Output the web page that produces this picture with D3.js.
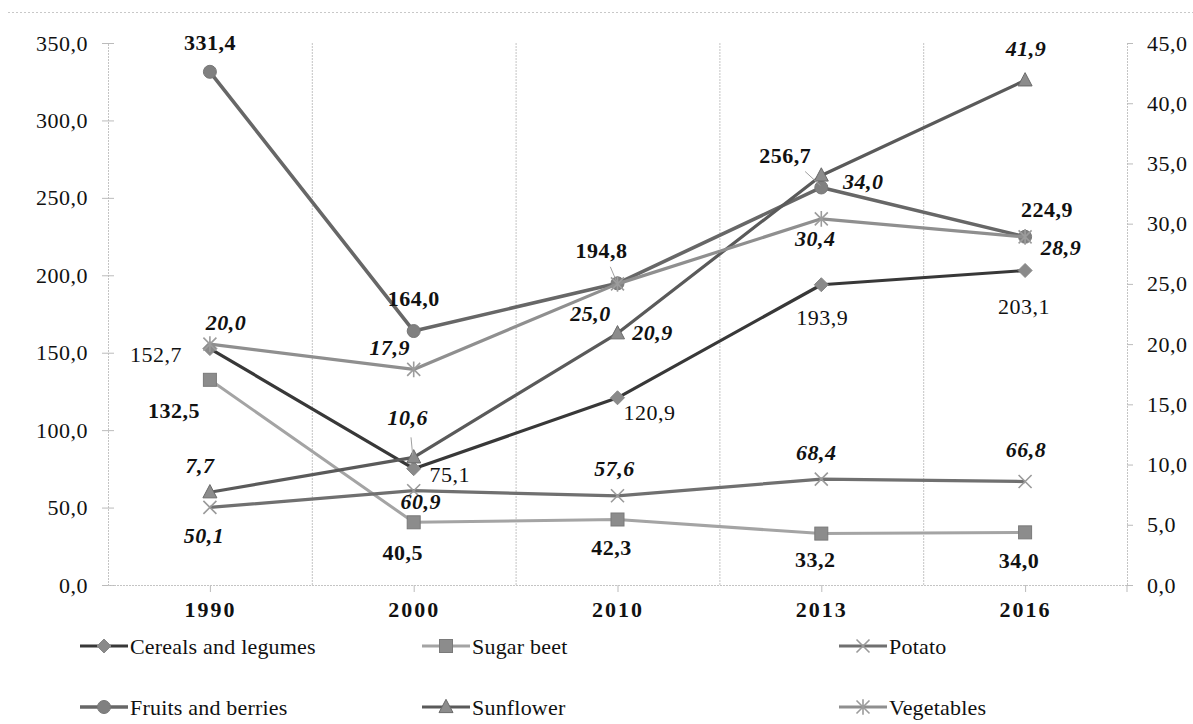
<!DOCTYPE html>
<html>
<head>
<meta charset="utf-8">
<script src="https://cdn.jsdelivr.net/npm/d3@7"></script>
<style>
  html, body { margin: 0; padding: 0; background: #fff; }
  svg { display: block; }
  text { font-family: "Liberation Serif", "Times New Roman", serif; fill: #111; }
</style>
</head>
<body>
<svg id="chart" width="1193" height="724"></svg>
<script>
// Years on the horizontal axis
const years = ["1990", "2000", "2010", "2013", "2016"];

// Series values (left axis unless noted)
const cereals   = [152.7, 75.1, 120.9, 193.9, 203.1];
const sugarBeet = [132.5, 40.5, 42.3, 33.2, 34.0];
const potato    = [50.1, 60.9, 57.6, 68.4, 66.8];
const fruits    = [331.4, 164.0, 194.8, 256.7, 224.9];
// right axis
const sunflower  = [7.7, 10.6, 20.9, 34.0, 41.9];
const vegetables = [20.0, 17.9, 25.0, 30.4, 28.9];

const seriesNames = ["Cereals and legumes", "Sugar beet", "Potato", "Fruits and berries", "Sunflower", "Vegetables"];

// Axis ticks
const leftTicks  = [0, 50, 100, 150, 200, 250, 300, 350];
const rightTicks = [0, 5, 10, 15, 20, 25, 30, 35, 40, 45];

const fmt = v => v.toFixed(1).replace(".", ",");
const SERIF = "'Liberation Serif', 'Times New Roman', serif";
const FS = 22;

const svg = d3.select("#chart");

const plot = { left: 108, right: 1127, top: 43, bottom: 585 };

const x = d3.scaleBand().domain(years).range([plot.left, plot.right]).padding(0);
const cx = d => x(d) + x.bandwidth() / 2;
const yL = d3.scaleLinear().domain([0, 350]).range([plot.bottom, plot.top]);
const yR = d3.scaleLinear().domain([0, 45]).range([plot.bottom, plot.top]);

// Top border of the chart area
svg.append("line")
  .attr("x1", 8).attr("x2", 1193).attr("y1", 12.5).attr("y2", 12.5)
  .attr("stroke", "#c8c8c8").attr("stroke-dasharray", "2,2");

// Vertical gridlines between categories
const grid = svg.append("g");
years.slice(1).forEach(y => {
  grid.append("line")
    .attr("x1", x(y) + 0.5).attr("x2", x(y) + 0.5)
    .attr("y1", plot.top).attr("y2", plot.bottom)
    .attr("stroke", "#c4c4c4").attr("stroke-width", 1).attr("stroke-dasharray", "2,1");
});

// Left axis
const gL = svg.append("g").attr("transform", `translate(${plot.left},0)`)
  .call(d3.axisLeft(yL).tickValues(leftTicks).tickFormat(fmt).tickSize(6).tickPadding(14));
gL.attr("font-family", null);
gL.select(".domain").attr("stroke", "#c4c4c4").attr("stroke-dasharray", "2,1");
gL.selectAll(".tick line").attr("stroke", "#bbb").attr("x2", -6).attr("x1", 6);
gL.selectAll(".tick text").attr("font-size", FS).attr("fill", "#222")
  .attr("letter-spacing", "0.5px").style("font-family", SERIF);

// Right axis
const gR = svg.append("g").attr("transform", `translate(${plot.right},0)`)
  .call(d3.axisRight(yR).tickValues(rightTicks).tickFormat(fmt).tickSize(6).tickPadding(14));
gR.attr("font-family", null);
gR.select(".domain").attr("stroke", "#c4c4c4").attr("stroke-dasharray", "2,1");
gR.selectAll(".tick line").attr("stroke", "#bbb");
gR.selectAll(".tick text").attr("font-size", FS).attr("fill", "#222")
  .attr("letter-spacing", "0.5px").style("font-family", SERIF);

// Bottom axis
const xPoint = d3.scalePoint().domain(years).range([cx(years[0]), cx(years[years.length - 1])]);
const gB = svg.append("g").attr("transform", `translate(0,${plot.bottom})`)
  .call(d3.axisBottom(xPoint).tickSize(7).tickPadding(9).tickSizeOuter(0));
gB.attr("font-family", null);
gB.select(".domain").remove();
gB.append("line").attr("x1", plot.left).attr("x2", plot.right).attr("y1", 0.5).attr("y2", 0.5)
  .attr("stroke", "#c4c4c4").attr("stroke-dasharray", "2,1");
gB.append("line").attr("x1", plot.right).attr("x2", plot.right).attr("y1", 0).attr("y2", 7)
  .attr("stroke", "#bbb");
gB.selectAll(".tick line").attr("stroke", "#bbb");
gB.selectAll(".tick text").attr("font-size", FS).attr("font-weight", "bold")
  .attr("letter-spacing", "2px").attr("fill", "#222")
  .style("font-family", SERIF);

// Marker shapes
function marker(g, type, px, py, st) {
  const s = st.size;
  if (type === "diamond") {
    g.append("path").attr("d", `M${px},${py - s}L${px + s},${py}L${px},${py + s}L${px - s},${py}Z`)
      .attr("fill", st.fill).attr("stroke", st.stroke).attr("stroke-width", 1);
  } else if (type === "square") {
    g.append("rect").attr("x", px - s).attr("y", py - s).attr("width", 2 * s).attr("height", 2 * s)
      .attr("fill", st.fill).attr("stroke", st.stroke).attr("stroke-width", 1);
  } else if (type === "circle") {
    g.append("circle").attr("cx", px).attr("cy", py).attr("r", s)
      .attr("fill", st.fill).attr("stroke", st.stroke).attr("stroke-width", 1);
  } else if (type === "triangle") {
    g.append("path").attr("d", `M${px},${py - s * 1.1}L${px + s},${py + s * 0.8}L${px - s},${py + s * 0.8}Z`)
      .attr("fill", st.fill).attr("stroke", st.stroke).attr("stroke-width", 1);
  } else if (type === "x") {
    g.append("path").attr("d", `M${px - s},${py - s}L${px + s},${py + s}M${px - s},${py + s}L${px + s},${py - s}`)
      .attr("stroke", st.fill).attr("stroke-width", 1.6).attr("fill", "none");
  } else if (type === "star") {
    g.append("path").attr("d", `M${px - s},${py - s}L${px + s},${py + s}M${px - s},${py + s}L${px + s},${py - s}M${px},${py - s * 1.2}L${px},${py + s * 1.2}`)
      .attr("stroke", st.fill).attr("stroke-width", 1.6).attr("fill", "none");
  }
}

// Series drawing styles and label placement (offsets from each point)
const series = [
  { name: seriesNames[0], values: cereals, y: yL, color: "#383838", width: 3.2, mk: "diamond",
    mst: { size: 7, fill: "#8a8a8a", stroke: "#888" }, font: { weight: "normal", style: "normal" },
    off: [[-54, 6], [36, 6], [32, 15], [1, 33], [-1, 36]] },
  { name: seriesNames[1], values: sugarBeet, y: yL, color: "#a4a4a4", width: 3, mk: "square",
    mst: { size: 6.5, fill: "#8c8c8c", stroke: "#7a7a7a" }, font: { weight: "bold", style: "normal" },
    off: [[-36, 30], [-11, 30], [-6, 28], [-6, 26], [-6, 28]] },
  { name: seriesNames[2], values: potato, y: yL, color: "#707070", width: 3.2, mk: "x",
    mst: { size: 6.5, fill: "#9a9a9a" }, font: { weight: "bold", style: "italic" },
    off: [[-6, 28], [7, 11], [-3, -28], [-5, -27], [1, -32]] },
  { name: seriesNames[3], values: fruits, y: yL, color: "#676767", width: 3.6, mk: "circle",
    mst: { size: 6.5, fill: "#808080", stroke: "#777" }, font: { weight: "bold", style: "normal" },
    off: [[0, -30], [0, -33], [-16, -33], [-36, -32], [22, -27]],
    leader: { 2: true, 3: true } },
  { name: seriesNames[4], values: sunflower, y: yR, color: "#5a5a5a", width: 3.2, mk: "triangle",
    mst: { size: 7, fill: "#8c8c8c", stroke: "#6a6a6a" }, font: { weight: "bold", style: "italic" },
    off: [[-10, -27], [-6, -40], [35, -1], [42, 6], [1, -32]],
    leader: { 1: true } },
  { name: seriesNames[5], values: vegetables, y: yR, color: "#8f8f8f", width: 3.2, mk: "star",
    mst: { size: 6.5, fill: "#9c9c9c" }, font: { weight: "bold", style: "italic" },
    off: [[16, -22], [-24, -22], [-27, 29], [-6, 19], [36, 10]] }
];

const linesG = svg.append("g");
const labelsG = svg.append("g");

series.forEach(s => {
  const pts = s.values.map((v, i) => [cx(years[i]), s.y(v)]);
  linesG.append("path")
    .attr("d", d3.line()(pts))
    .attr("fill", "none").attr("stroke", s.color).attr("stroke-width", s.width)
    .attr("stroke-linejoin", "round");
  const mg = linesG.append("g");
  pts.forEach(p => marker(mg, s.mk, p[0], p[1], s.mst));

  s.values.forEach((v, i) => {
    const [px, py] = pts[i];
    const [dx, dy] = s.off[i];
    if (s.leader && s.leader[i]) {
      labelsG.append("line")
        .attr("x1", px + dx * 0.45).attr("y1", py + dy * 0.5)
        .attr("x2", px - 1).attr("y2", py - 2)
        .attr("stroke", "#a0a0a0").attr("stroke-width", 1);
    }
    labelsG.append("text")
      .attr("x", px + dx).attr("y", py + dy).attr("dy", "0.35em")
      .attr("text-anchor", "middle")
      .attr("font-size", FS)
      .attr("letter-spacing", "0.5px")
      .attr("font-weight", s.font.weight)
      .attr("font-style", s.font.style)
      .style("font-family", SERIF)
      .text(fmt(v));
  });
});

// Legend: three columns, two rows
const legendCols = [80, 422, 839];
const legendRows = [646, 707];
series.forEach((s, i) => {
  const lx = legendCols[i % 3];
  const ly = legendRows[Math.floor(i / 3)];
  const g = svg.append("g");
  g.append("line").attr("x1", lx).attr("x2", lx + 48).attr("y1", ly).attr("y2", ly)
    .attr("stroke", s.color).attr("stroke-width", s.width);
  marker(g, s.mk, lx + 24, ly, s.mst);
  g.append("text").attr("x", lx + 50).attr("y", ly).attr("dy", "0.35em")
    .attr("font-size", FS).attr("letter-spacing", "0.2px")
    .style("font-family", SERIF).text(s.name);
});
</script>
</body>
</html>
